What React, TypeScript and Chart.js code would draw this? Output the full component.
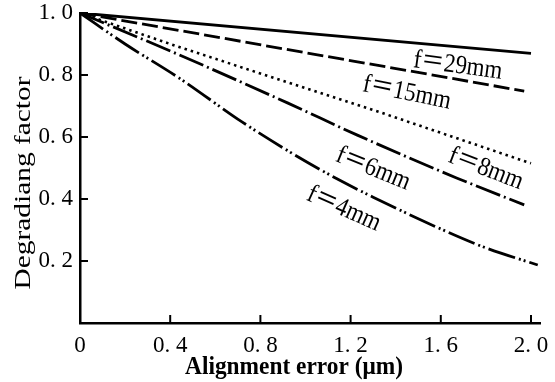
import React, { useEffect, useRef } from "react";
import { Chart, registerables } from "chart.js";

Chart.register(...registerables);

// ---- data ----
const xTicks = [0, 0.4, 0.8, 1.2, 1.6, 2.0];
const xTickLabels = ["0", "0. 4", "0. 8", "1. 2", "1. 6", "2. 0"];
const yTicks = [0.2, 0.4, 0.6, 0.8, 1.0];
const yTickLabels = ["0. 2", "0. 4", "0. 6", "0. 8", "1. 0"];
const xTitle = "Alignment error (\u03BCm)";
const yTitle = "Degradiang factor";

const f29X = [0, 2.0];
const f29Y = [1.0, 0.87];
const f15X = [0, 1.0, 1.97];
const f15Y = [1.0, 0.872, 0.748];
const f8X = [0, 0.44, 1.33, 2.0];
const f8Y = [1.0, 0.89, 0.68, 0.515];
const f6X = [0, 0.44, 0.92, 1.23, 1.67, 1.97];
const f6Y = [1.0, 0.865, 0.71, 0.606, 0.468, 0.381];
const f4X = [0, 0.2, 0.44, 0.72, 0.93, 1.15, 1.3, 1.61, 1.79, 2.03];
const f4Y = [1.0, 0.9, 0.79, 0.648, 0.552, 0.461, 0.406, 0.3, 0.245, 0.187];

const seriesNames = ["f=29mm", "f=15mm", "f=8mm", "f=6mm", "f=4mm"];
const labelText = ["f\uFF1D29mm", "f\uFF1D15mm", "f\uFF1D8mm", "f\uFF1D6mm", "f\uFF1D4mm"];
const labelAtX = [1.676, 1.45, 1.8, 1.3, 1.17];
const labelAtY = [0.829, 0.742, 0.497, 0.497, 0.368];
const labelAngle = [7.6, 11.5, 21, 22, 24];

const pts = (xs: number[], ys: number[]) => xs.map((x, i) => ({ x, y: ys[i] }));

const SERIF = "'Liberation Serif', 'DejaVu Serif', 'Noto Sans CJK SC', serif";

function fitText(ctx: any, text: string, targetW: number) {
  const w = ctx.measureText(text).width;
  return w > 0 ? targetW / w : 1;
}

function noScalePadding(s: any) {
  s.paddingLeft = 0;
  s.paddingRight = 0;
  s.paddingTop = 0;
  s.paddingBottom = 0;
}

const decorPlugin = {
  id: "decor",
  afterDraw(chart: any) {
    const ctx = chart.ctx;
    const xs = chart.scales.x;
    const ys = chart.scales.y;
    const y0 = ys.getPixelForValue(0);
    const x0 = xs.getPixelForValue(0);
    ctx.save();
    ctx.strokeStyle = "#000";
    ctx.lineWidth = 2;
    // inward tick marks
    xTicks.forEach((v) => {
      if (v === 0) return;
      const px = xs.getPixelForValue(v);
      ctx.beginPath();
      ctx.moveTo(px, y0);
      ctx.lineTo(px, y0 - 8);
      ctx.stroke();
    });
    yTicks.forEach((v) => {
      const py = ys.getPixelForValue(v);
      ctx.beginPath();
      ctx.moveTo(x0, py);
      ctx.lineTo(x0 + 8, py);
      ctx.stroke();
    });
    ctx.fillStyle = "#000";
    ctx.textAlign = "center";
    ctx.textBaseline = "middle";
    // axis titles
    ctx.save();
    ctx.font = `bold 22px ${SERIF}`;
    const sx = fitText(ctx, xTitle, 218);
    ctx.translate(294, 368);
    ctx.scale(sx, 1.1);
    ctx.fillText(xTitle, 0, 0);
    ctx.restore();

    ctx.save();
    ctx.font = `24px ${SERIF}`;
    const sy = fitText(ctx, yTitle, 213);
    ctx.translate(24, 183);
    ctx.rotate(-Math.PI / 2);
    ctx.scale(sy, 1);
    ctx.fillText(yTitle, 0, 0);
    ctx.restore();

    // curve labels
    ctx.font = `23px ${SERIF}`;
    labelText.forEach((t, i) => {
      const px = xs.getPixelForValue(labelAtX[i]);
      const py = ys.getPixelForValue(labelAtY[i]);
      ctx.save();
      ctx.translate(px, py);
      ctx.rotate((labelAngle[i] * Math.PI) / 180);
      ctx.scale(1, 1.15);
      ctx.fillText(t, 0, 0);
      ctx.restore();
    });
    ctx.restore();
  },
};

export default function App() {
  const ref = useRef<HTMLCanvasElement | null>(null);
  useEffect(() => {
    if (!ref.current) return;
    const common = {
      pointRadius: 0,
      borderColor: "#000",
      fill: false,
    };
    const chart = new Chart(ref.current, {
      type: "line",
      data: {
        datasets: [
          { ...common, label: seriesNames[0], data: pts(f29X, f29Y), borderWidth: 2.8 },
          { ...common, label: seriesNames[1], data: pts(f15X, f15Y), borderWidth: 2.8, borderDash: [16, 5] },
          { ...common, label: seriesNames[2], data: pts(f8X, f8Y), borderWidth: 2.6, borderDash: [2.5, 4] },
          { ...common, label: seriesNames[3], data: pts(f6X, f6Y), borderWidth: 2.8, borderDash: [26, 4, 2, 4], cubicInterpolationMode: "monotone" },
          { ...common, label: seriesNames[4], data: pts(f4X, f4Y), borderWidth: 2.8, borderDash: [28, 4, 2, 3, 2, 4], cubicInterpolationMode: "monotone" },
        ],
      },
      plugins: [decorPlugin],
      options: {
        animation: false,
        responsive: false,
        maintainAspectRatio: false,
        layout: { autoPadding: false, padding: { top: 13, right: 15, left: 0, bottom: 0 } },
        plugins: { legend: { display: false }, tooltip: { enabled: false } },
        scales: {
          x: {
            type: "linear",
            min: 0,
            max: 2.04,
            afterBuildTicks: (s: any) => {
              s.ticks = xTicks.map((v) => ({ value: v }));
            },
            afterFit: (s: any) => {
              s.height = 59;
              noScalePadding(s);
            },
            ticks: {
              color: "#000",
              font: { family: SERIF, size: 23 },
              padding: 9,
              maxRotation: 0,
              autoSkip: false,
              callback: (v: any) => xTickLabels[xTicks.indexOf(Number(v))] ?? "",
            },
            grid: { display: false, drawTicks: false },
            border: { display: true, color: "#000", width: 2.5 },
          },
          y: {
            type: "linear",
            min: 0,
            max: 1.0,
            afterBuildTicks: (s: any) => {
              s.ticks = yTicks.map((v) => ({ value: v }));
            },
            afterFit: (s: any) => {
              s.width = 80;
              noScalePadding(s);
            },
            ticks: {
              color: "#000",
              font: { family: SERIF, size: 23 },
              padding: 7,
              autoSkip: false,
              callback: (v: any) => yTickLabels[yTicks.indexOf(Number(v))] ?? "",
            },
            grid: { display: false, drawTicks: false },
            border: { display: true, color: "#000", width: 2.5 },
          },
        },
      },
    });
    return () => chart.destroy();
  }, []);
  return (
    <div style={{ position: "absolute", left: 0, top: 0, width: 555, height: 382, background: "#fff" }}>
      <canvas ref={ref} width={555} height={382} style={{ width: 555, height: 382 }} />
    </div>
  );
}
